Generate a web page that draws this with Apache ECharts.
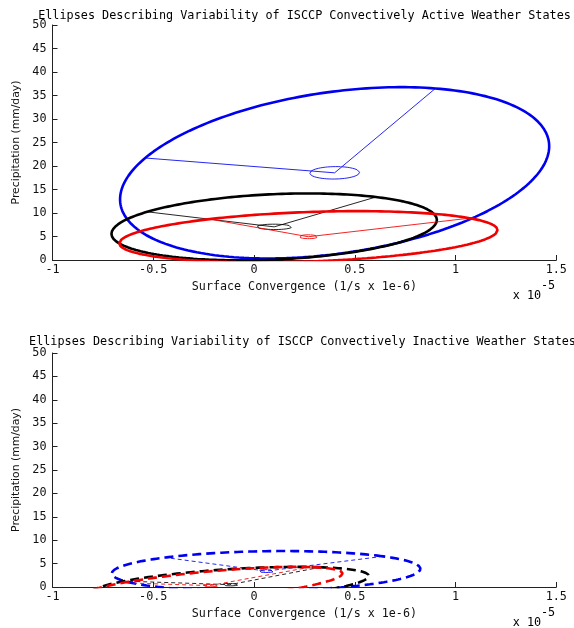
<!DOCTYPE html>
<html>
<head>
<meta charset="utf-8">
<title>ISCCP weather state ellipses</title>
<script src="https://cdn.jsdelivr.net/npm/echarts@6/dist/echarts.min.js"></script>
<style>
  html, body { margin: 0; padding: 0; background: #fff; }
  #chart { width: 574px; height: 628px; }
</style>
</head>
<body>
<div id="chart"></div>
<script>
// x values are in units of 1e-5 (1/s), y in mm/day
var xTicks = [-1, -0.5, 0, 0.5, 1, 1.5];
var yTicks = [0, 5, 10, 15, 20, 25, 30, 35, 40, 45, 50];
var stateColors = ['#0000f0', '#000000', '#f00000'];   // blue, black, red

// convectively active states: centre, two semi-axis end points, small inner ellipse end points
var activeCenter = [[0.40, 18.55], [0.10, 7.05], [0.27, 4.95]];
var activeAxisA  = [[0.90, 36.5], [0.605, 13.4], [1.07, 8.9]];
var activeAxisB  = [[-0.54, 21.7], [-0.53, 10.25], [-0.22, 8.7]];
var activeInnerA = [[0.43, 19.85], [0.12, 7.6], [0.28, 5.35]];
var activeInnerB = [[0.28, 18.8], [0.015, 7.2], [0.225, 5.05]];

// convectively inactive states
var inactiveCenter = [[0.06, 3.4], [-0.12, 0.5], [-0.22, 0.3]];
var inactiveAxisA  = [[0.64, 6.55], [0.33, 4.22], [0.28, 4.25]];
var inactiveAxisB  = [[-0.44, 6.3], [-0.643, 1.26], [-0.65, 0.9]];
var inactiveInnerA = [[0.065, 3.7], [-0.115, 0.75], [-0.215, 0.55]];
var inactiveInnerB = [[0.02, 3.45], [-0.16, 0.55], [-0.26, 0.35]];

var titles = [
  'Ellipses Describing Variability of ISCCP Convectively Active Weather States',
  'Ellipses Describing Variability of ISCCP Convectively Inactive Weather States'
];

var mono = 'DejaVu Sans Mono';

// points of the ellipse c + a*cos(t) + b*sin(t), a and b taken from the end points
function ellipsePoints(c, A, B) {
  var a = [A[0] - c[0], A[1] - c[1]];
  var b = [B[0] - c[0], B[1] - c[1]];
  var pts = [];
  for (var i = 0; i <= 240; i++) {
    var t = 2 * Math.PI * i / 240;
    pts.push([c[0] + a[0] * Math.cos(t) + b[0] * Math.sin(t),
              c[1] + a[1] * Math.cos(t) + b[1] * Math.sin(t)]);
  }
  return pts;
}

function panelSeries(idx, centers, axA, axB, inA, inB, dashed) {
  var list = [];
  for (var k = 0; k < centers.length; k++) {
    var col = stateColors[k];
    list.push({
      type: 'line', xAxisIndex: idx, yAxisIndex: idx,
      data: ellipsePoints(centers[k], axA[k], axB[k]),
      showSymbol: false, silent: true,
      lineStyle: { color: col, width: 2.6, type: dashed ? [9, 5] : 'solid' }
    });
    // semi-axes drawn from the end points through the centre
    list.push({
      type: 'line', xAxisIndex: idx, yAxisIndex: idx,
      data: [axA[k], centers[k], axB[k]],
      showSymbol: false, silent: true,
      lineStyle: { color: col, width: 1, opacity: 0.85, type: dashed ? [4, 3] : 'solid' }
    });
    list.push({
      type: 'line', xAxisIndex: idx, yAxisIndex: idx,
      data: ellipsePoints(centers[k], inA[k], inB[k]),
      showSymbol: false, silent: true,
      lineStyle: { color: col, width: 1, opacity: 0.85 }
    });
  }
  return list;
}

function xAxisFor(idx) {
  return {
    type: 'value', gridIndex: idx,
    min: xTicks[0], max: xTicks[xTicks.length - 1], interval: 0.5,
    name: 'Surface Convergence (1/s x 1e-6)',
    nameLocation: 'middle', nameGap: 21,
    nameTextStyle: { fontFamily: mono, fontSize: 11.7, color: '#111' },
    axisLine: { show: true, onZero: false, lineStyle: { color: '#222', width: 1 } },
    axisTick: { show: true, inside: true, length: 5, lineStyle: { color: '#222' } },
    axisLabel: { fontFamily: mono, fontSize: 11.8, color: '#111', margin: 4,
                 formatter: function (v) { return String(v); } },
    splitLine: { show: false }
  };
}

function yAxisFor(idx) {
  return {
    type: 'value', gridIndex: idx,
    min: yTicks[0], max: yTicks[yTicks.length - 1], interval: 5,
    name: 'Precipitation (mm/day)',
    nameLocation: 'middle', nameGap: 27,
    nameTextStyle: { fontFamily: 'DejaVu Sans', fontSize: 10.8, color: '#111' },
    axisLine: { show: true, onZero: false, lineStyle: { color: '#222', width: 1 } },
    axisTick: { show: true, inside: true, length: 5, lineStyle: { color: '#222' } },
    axisLabel: { fontFamily: mono, fontSize: 11.8, color: '#111', margin: 6 },
    splitLine: { show: false }
  };
}

function label(text, x, y, size) {
  return { type: 'text', x: x, y: y,
           style: { text: text, fontFamily: mono, fontSize: size, fill: '#000',
                    align: 'center', verticalAlign: 'middle' } };
}

var myChart = echarts.init(document.getElementById('chart'));

var option = {
  backgroundColor: '#fff',
  animation: false,
  grid: [
    { left: 52.5, top: 25, width: 503.8, height: 235 },
    { left: 52.5, top: 353, width: 503.8, height: 234 }
  ],
  xAxis: [xAxisFor(0), xAxisFor(1)],
  yAxis: [yAxisFor(0), yAxisFor(1)],
  graphic: [
    label(titles[0], 304.5, 16, 11.8),
    label(titles[1], 302.5, 342, 11.8),
    label('-5', 548, 286, 11.8),
    label('x 10', 527, 296, 11.8),
    label('-5', 548, 613, 11.8),
    label('x 10', 527, 623, 11.8)
  ],
  series: panelSeries(0, activeCenter, activeAxisA, activeAxisB, activeInnerA, activeInnerB, false)
    .concat(panelSeries(1, inactiveCenter, inactiveAxisA, inactiveAxisB, inactiveInnerA, inactiveInnerB, true))
};

myChart.setOption(option);
</script>
</body>
</html>
